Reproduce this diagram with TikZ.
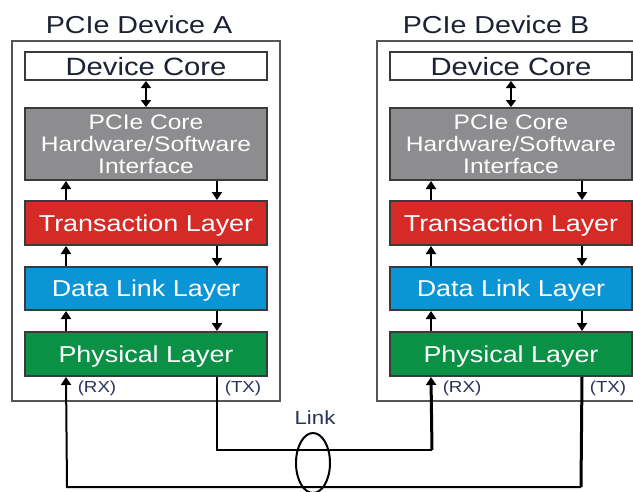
\documentclass[tikz,border=0pt]{standalone}
\usepackage{fontspec}
\setmainfont{Liberation Sans}[FakeStretch=1.17]
\usepackage{tikz}
\usetikzlibrary{
    arrows.meta,
    shapes.geometric
}
\definecolor{boxline}{HTML}{3A3A3C}
\definecolor{framegray}{HTML}{555555}
\definecolor{hwgray}{HTML}{8D8D90}
\definecolor{tlred}{HTML}{D62A26}
\definecolor{dlblue}{HTML}{0C95D4}
\definecolor{phygreen}{HTML}{0A9146}
\definecolor{inktext}{HTML}{1C2233}
\definecolor{porttext}{HTML}{2B3258}
\tikzset{
  layer/.style={draw=boxline, line width=2pt, minimum width=242pt,
    inner sep=0pt, text=white, text height=16.5pt, text depth=0pt,
    font=\fontsize{23}{25}\selectfont},
  devframe/.style={draw=framegray, line width=1.5pt, minimum width=268pt,
    minimum height=360pt, inner sep=0pt},
  devtitle/.style={text=inktext, font=\fontsize{24.5}{27}\selectfont},
  port/.style={text=porttext, font=\fontsize{16}{18}\selectfont},
  updown/.style={line width=2.6pt, -{Triangle[length=8pt,width=10pt]}},
  duplex/.style={line width=2.6pt, {Triangle[length=7pt,width=10pt]}-{Triangle[length=7pt,width=10pt]}},
  wire/.style={line width=2pt},
  heavywire/.style={line width=3pt},
  linkloop/.style={draw, ellipse, line width=2pt, minimum width=34pt,
    minimum height=60pt, inner sep=0pt}
}
\newcommand{\PCIeDevice}[4]{%
  \begin{scope}[xshift=#2]
  \node[devtitle] (title#1) at (#4,25) {#3};
  \node[devframe] (frame#1) at (146,221) {};
  \node[layer, fill=white, text=inktext, minimum height=28pt, text height=18pt,
    font=\fontsize{25}{27}\selectfont] (core#1) at (146,66) {Device Core};
  \node[layer, fill=hwgray, minimum height=72pt, align=center,
    text height=, text depth=,
    font=\fontsize{21}{22}\selectfont] (hw#1) at (146,144)
    {PCIe Core\\Hardware/Software\\Interface};
  \node[layer, fill=tlred, minimum height=44pt] (tl#1) at (146,223) {Transaction Layer};
  \node[layer, fill=dlblue, minimum height=43pt] (dl#1) at (146,288.5) {Data Link Layer};
  \node[layer, fill=phygreen, minimum height=44pt] (phy#1) at (146,354) {Physical Layer};
  \draw[duplex] (core#1) -- (hw#1);
  \draw[updown] ([xshift=42pt]tl#1.north west) -- ([xshift=42pt]hw#1.south west);
  \draw[updown] ([xshift=-51pt]hw#1.south east) -- ([xshift=-51pt]tl#1.north east);
  \draw[updown] ([xshift=42pt]dl#1.north west) -- ([xshift=42pt]tl#1.south west);
  \draw[updown] ([xshift=-51pt]tl#1.south east) -- ([xshift=-51pt]dl#1.north east);
  \draw[updown] ([xshift=42pt]phy#1.north west) -- ([xshift=42pt]dl#1.south west);
  \draw[updown] ([xshift=-51pt]dl#1.south east) -- ([xshift=-51pt]phy#1.north east);
  \node[port] (rx#1) at (97,388) {(RX)};
  \node[port] (tx#1) at (243,388) {(TX)};
  \end{scope}
}

\begin{document}
\begin{tikzpicture}[x=1pt,y=-1pt]
\useasboundingbox (0,0) rectangle (633,491);
\clip (0,0) rectangle (633,491);
\PCIeDevice{A}{0pt}{PCIe Device A}{139}
\PCIeDevice{B}{365pt}{PCIe Device B}{131}
% the link between the two devices
\coordinate (upB) at (432,450);
\coordinate (turnB) at (581,487);
\coordinate (upA) at (67,487);
\draw[wire] ([xshift=-51pt]phyA.south east) |- (upB);
\draw[heavywire, -{Triangle[length=8pt,width=10pt]}] (upB) -- ([xshift=42pt]phyB.south west);
\draw[heavywire] ([xshift=-51pt]phyB.south east) -- (turnB);
\draw[wire, -{Triangle[length=8pt,width=10pt]}] (turnB) -- (upA) -- ([xshift=42pt]phyA.south west);
\node[linkloop] (loop) at (313,463) {};
\node[port, font=\fontsize{19}{21}\selectfont] (linklabel) at (315,418) {Link};
\end{tikzpicture}
\end{document}
